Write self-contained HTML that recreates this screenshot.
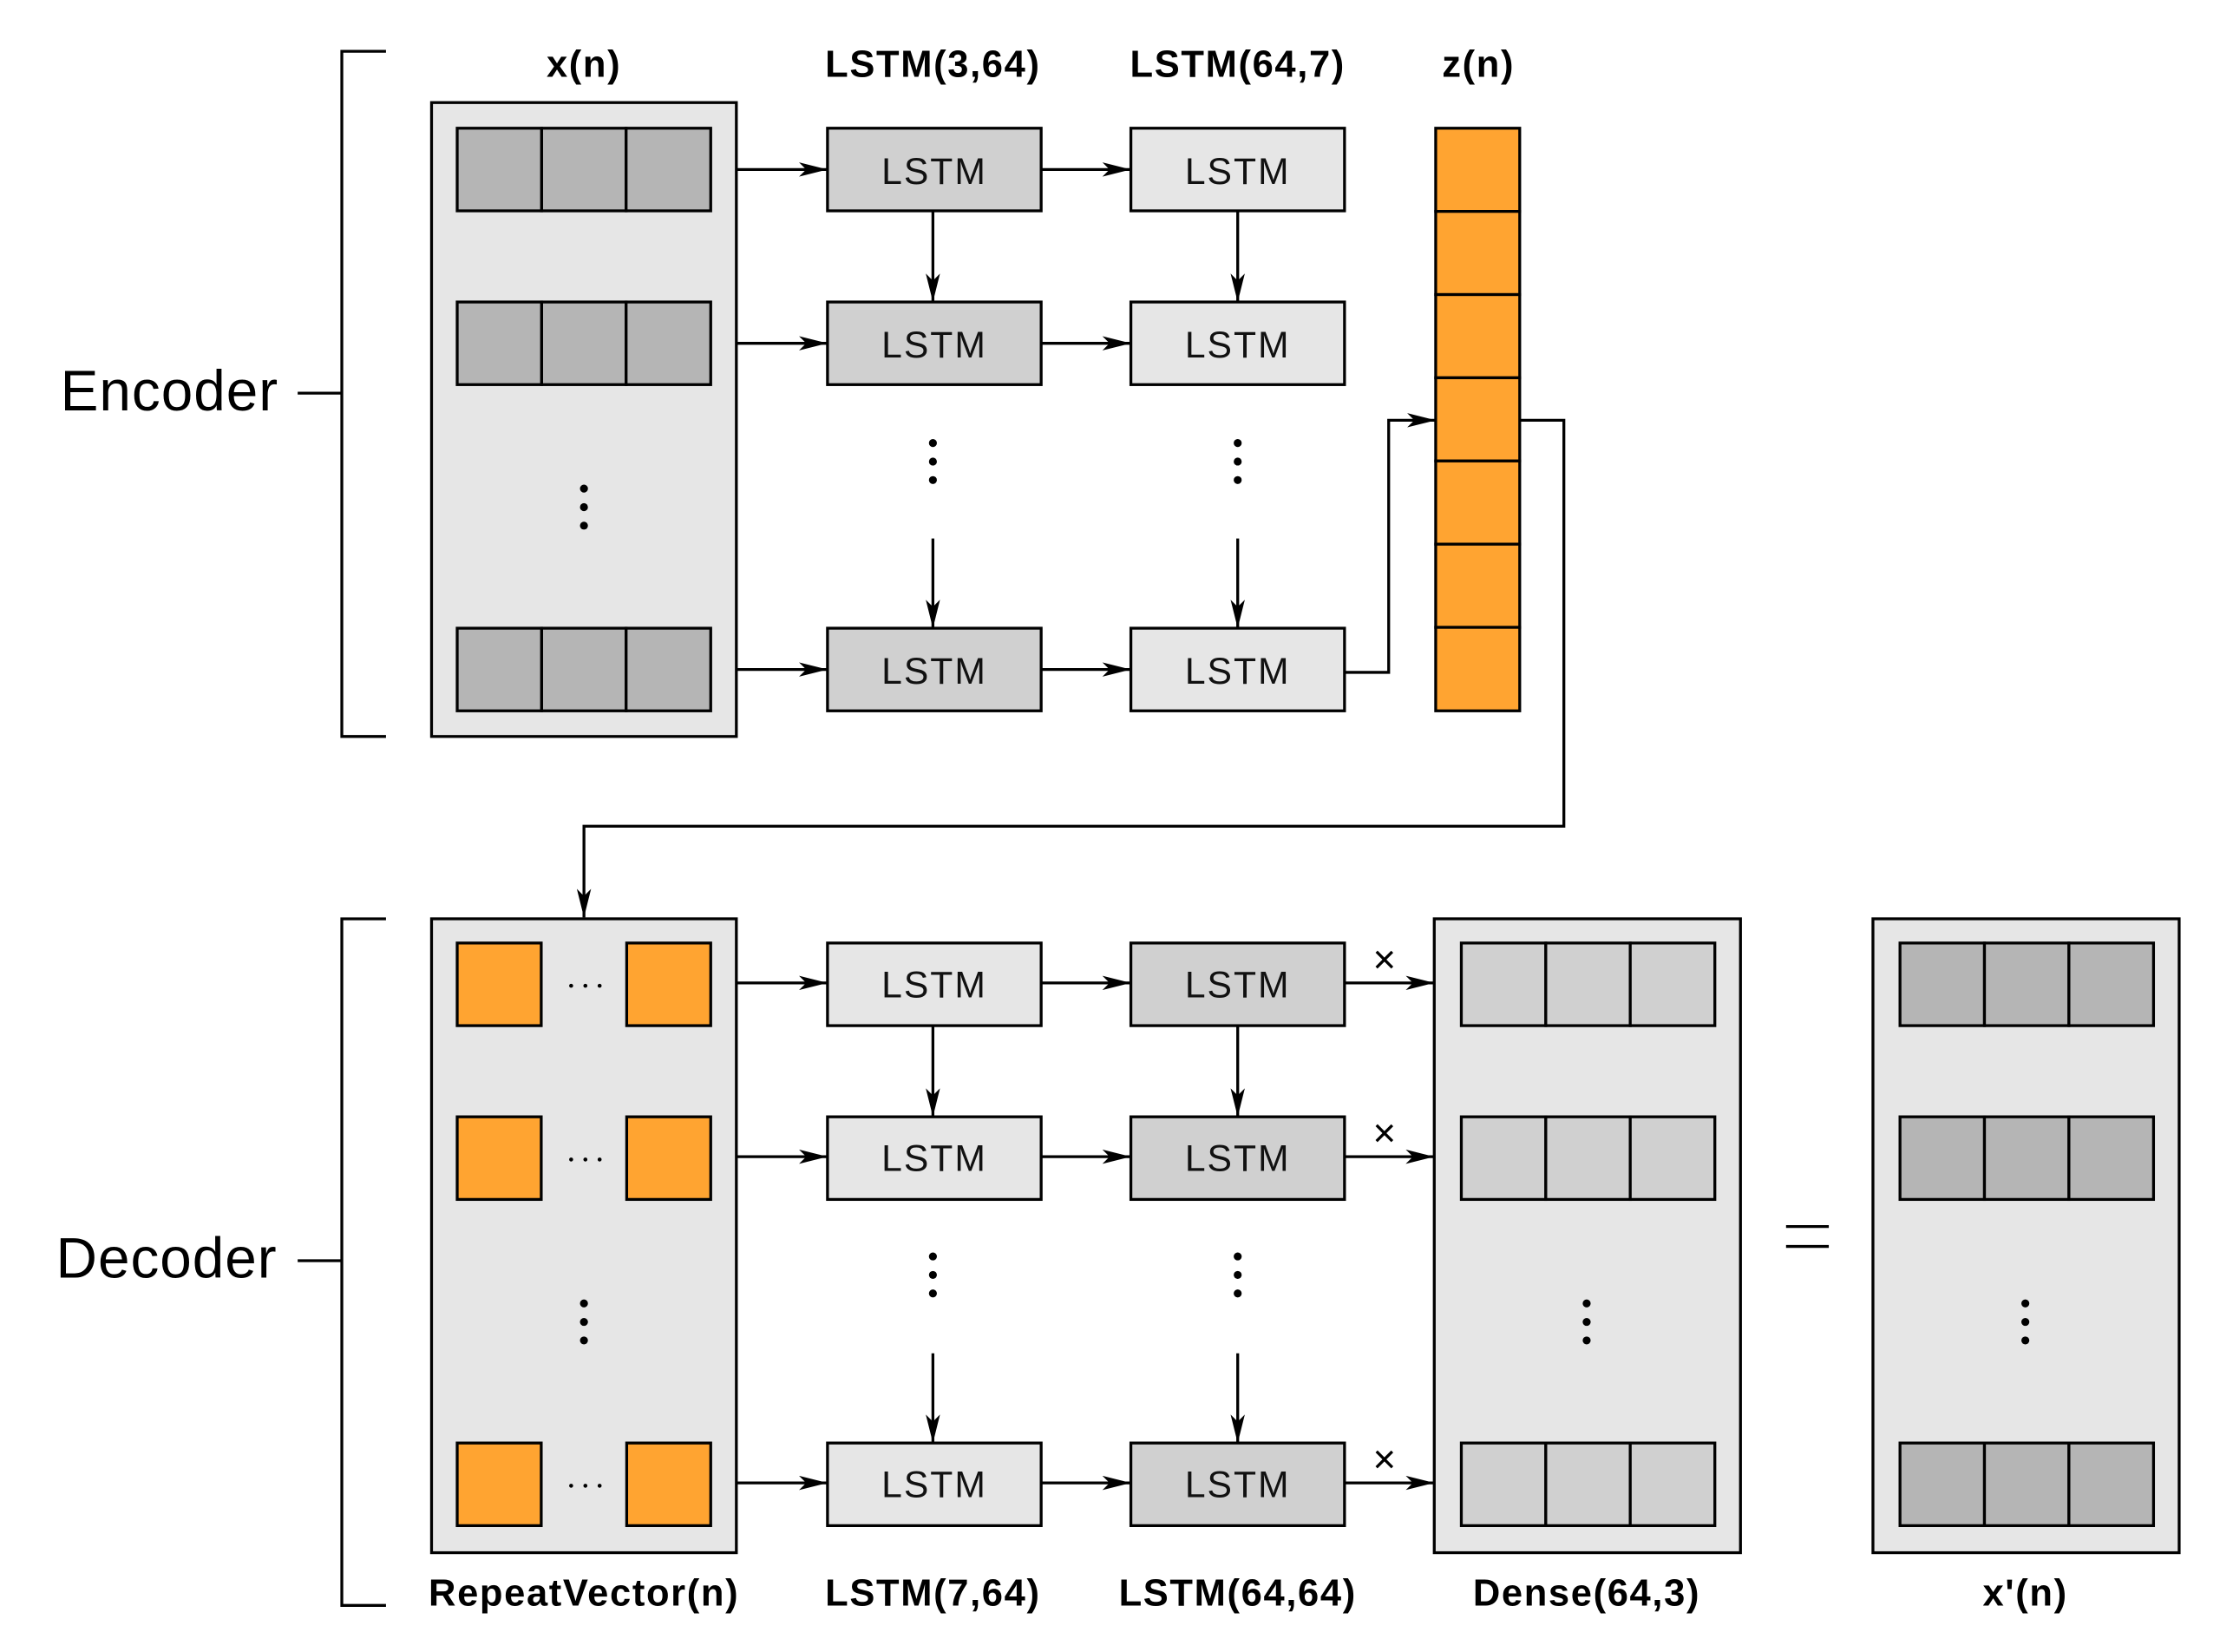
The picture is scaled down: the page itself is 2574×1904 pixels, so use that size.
<!DOCTYPE html>
<html><head><meta charset="utf-8"><style>
html,body{margin:0;padding:0;background:#fff;}
svg{display:block;}
</style></head><body>
<svg width="2574" height="1904" viewBox="0 0 1567.8 1159.7" xmlns="http://www.w3.org/2000/svg" font-family="Liberation Sans, sans-serif">
<defs>
<marker id="ah" viewBox="0 0 20 10" refX="20" refY="5" markerWidth="20" markerHeight="10" markerUnits="userSpaceOnUse" orient="auto">
<path d="M0,0 L20,5 L0,10 L5,5 Z" fill="#000"/>
</marker>
</defs>
<g stroke="#000" stroke-width="2" fill="none">
<path d="M271,36 H240 V517 H271"/>
<path d="M209,276 H240"/>
<path d="M271,645 H240 V1127 H271"/>
<path d="M209,885 H240"/>
</g>
<text x="119" y="288" font-size="40" letter-spacing="0.6" text-anchor="middle">Encoder</text>
<text x="117" y="897" font-size="40" letter-spacing="0.6" text-anchor="middle">Decoder</text>

<g font-size="26.5" font-weight="bold" letter-spacing="1" text-anchor="middle">
<text x="410" y="54">x(n)</text>
<text x="655" y="54">LSTM(3,64)</text>
<text x="869" y="54">LSTM(64,7)</text>
<text x="1038" y="54">z(n)</text>
<text x="410" y="1127">RepeatVector(n)</text>
<text x="655" y="1127">LSTM(7,64)</text>
<text x="869" y="1127">LSTM(64,64)</text>
<text x="1114" y="1127">Dense(64,3)</text>
<text x="1422" y="1127">x'(n)</text>
</g>

<g stroke="#000" stroke-width="2">
<rect x="303" y="72" width="214" height="445" fill="#e6e6e6"/>
<g fill="#b5b5b5">
<rect x="321" y="90" width="59.3" height="58"/><rect x="380.3" y="90" width="59.3" height="58"/><rect x="439.6" y="90" width="59.4" height="58"/>
<rect x="321" y="212" width="59.3" height="58"/><rect x="380.3" y="212" width="59.3" height="58"/><rect x="439.6" y="212" width="59.4" height="58"/>
<rect x="321" y="441" width="59.3" height="58"/><rect x="380.3" y="441" width="59.3" height="58"/><rect x="439.6" y="441" width="59.4" height="58"/>
</g>
<g fill="#d0d0d0">
<rect x="581" y="90" width="150" height="58"/><rect x="581" y="212" width="150" height="58"/><rect x="581" y="441" width="150" height="58"/>
</g>
<g fill="#e6e6e6">
<rect x="794" y="90" width="150" height="58"/><rect x="794" y="212" width="150" height="58"/><rect x="794" y="441" width="150" height="58"/>
</g>
<g fill="#ffa431">
<rect x="1008" y="90" width="59" height="58.4"/><rect x="1008" y="148.4" width="59" height="58.4"/><rect x="1008" y="206.8" width="59" height="58.4"/><rect x="1008" y="265.2" width="59" height="58.4"/><rect x="1008" y="323.6" width="59" height="58.4"/><rect x="1008" y="382" width="59" height="58.4"/><rect x="1008" y="440.4" width="59" height="58.6"/>
</g>
<rect x="303" y="645" width="214" height="445" fill="#e6e6e6"/>
<g fill="#ffa431">
<rect x="321" y="662" width="59" height="58"/><rect x="440" y="662" width="59" height="58"/>
<rect x="321" y="784" width="59" height="58"/><rect x="440" y="784" width="59" height="58"/>
<rect x="321" y="1013" width="59" height="58"/><rect x="440" y="1013" width="59" height="58"/>
</g>
<g fill="#e6e6e6">
<rect x="581" y="662" width="150" height="58"/><rect x="581" y="784" width="150" height="58"/><rect x="581" y="1013" width="150" height="58"/>
</g>
<g fill="#d0d0d0">
<rect x="794" y="662" width="150" height="58"/><rect x="794" y="784" width="150" height="58"/><rect x="794" y="1013" width="150" height="58"/>
</g>
<rect x="1007" y="645" width="215" height="445" fill="#e6e6e6"/>
<g fill="#d0d0d0">
<rect x="1026" y="662" width="59.3" height="58"/><rect x="1085.3" y="662" width="59.3" height="58"/><rect x="1144.6" y="662" width="59.4" height="58"/>
<rect x="1026" y="784" width="59.3" height="58"/><rect x="1085.3" y="784" width="59.3" height="58"/><rect x="1144.6" y="784" width="59.4" height="58"/>
<rect x="1026" y="1013" width="59.3" height="58"/><rect x="1085.3" y="1013" width="59.3" height="58"/><rect x="1144.6" y="1013" width="59.4" height="58"/>
</g>
<rect x="1315" y="645" width="215" height="445" fill="#e6e6e6"/>
<g fill="#b5b5b5">
<rect x="1334" y="662" width="59.3" height="58"/><rect x="1393.3" y="662" width="59.3" height="58"/><rect x="1452.6" y="662" width="59.4" height="58"/>
<rect x="1334" y="784" width="59.3" height="58"/><rect x="1393.3" y="784" width="59.3" height="58"/><rect x="1452.6" y="784" width="59.4" height="58"/>
<rect x="1334" y="1013" width="59.3" height="58"/><rect x="1393.3" y="1013" width="59.3" height="58"/><rect x="1452.6" y="1013" width="59.4" height="58"/>
</g>
</g>

<g font-size="26" letter-spacing="1.2" text-anchor="middle" fill="#111">
<text x="656" y="129">LSTM</text><text x="656" y="251">LSTM</text><text x="656" y="480">LSTM</text>
<text x="869" y="129">LSTM</text><text x="869" y="251">LSTM</text><text x="869" y="480">LSTM</text>
<text x="656" y="700">LSTM</text><text x="656" y="822">LSTM</text><text x="656" y="1051">LSTM</text>
<text x="869" y="700">LSTM</text><text x="869" y="822">LSTM</text><text x="869" y="1051">LSTM</text>
</g>

<g stroke="#000" stroke-width="2" fill="none" marker-end="url(#ah)">
<path d="M517,119 H581"/><path d="M731,119 H794"/>
<path d="M517,241 H581"/><path d="M731,241 H794"/>
<path d="M517,470 H581"/><path d="M731,470 H794"/>
<path d="M655,148 V212"/><path d="M869,148 V212"/>
<path d="M655,378 V441"/><path d="M869,378 V441"/>
<path d="M944,472 H975 V295 H1008"/>
<path d="M1067,295 H1098 V580 H410 V644"/>
<path d="M517,690 H581"/><path d="M731,690 H794"/><path d="M944,690 H1007"/>
<path d="M517,812 H581"/><path d="M731,812 H794"/><path d="M944,812 H1007"/>
<path d="M517,1041 H581"/><path d="M731,1041 H794"/><path d="M944,1041 H1007"/>
<path d="M655,720 V784"/><path d="M869,720 V784"/>
<path d="M655,950 V1013"/><path d="M869,950 V1013"/>
</g>

<g fill="#000">
<circle cx="410" cy="343" r="2.8"/><circle cx="410" cy="356" r="2.8"/><circle cx="410" cy="369" r="2.8"/>
<circle cx="655" cy="311" r="2.8"/><circle cx="655" cy="324" r="2.8"/><circle cx="655" cy="337" r="2.8"/>
<circle cx="869" cy="311" r="2.8"/><circle cx="869" cy="324" r="2.8"/><circle cx="869" cy="337" r="2.8"/>
<circle cx="410" cy="915" r="2.8"/><circle cx="410" cy="928" r="2.8"/><circle cx="410" cy="941" r="2.8"/>
<circle cx="655" cy="882" r="2.8"/><circle cx="655" cy="895" r="2.8"/><circle cx="655" cy="908" r="2.8"/>
<circle cx="869" cy="882" r="2.8"/><circle cx="869" cy="895" r="2.8"/><circle cx="869" cy="908" r="2.8"/>
<circle cx="1114" cy="915" r="2.8"/><circle cx="1114" cy="928" r="2.8"/><circle cx="1114" cy="941" r="2.8"/>
<circle cx="1422" cy="915" r="2.8"/><circle cx="1422" cy="928" r="2.8"/><circle cx="1422" cy="941" r="2.8"/>
<circle cx="401" cy="692" r="1.4"/><circle cx="411" cy="692" r="1.4"/><circle cx="421" cy="692" r="1.4"/>
<circle cx="401" cy="814" r="1.4"/><circle cx="411" cy="814" r="1.4"/><circle cx="421" cy="814" r="1.4"/>
<circle cx="401" cy="1043" r="1.4"/><circle cx="411" cy="1043" r="1.4"/><circle cx="421" cy="1043" r="1.4"/>
</g>
<g font-size="28" text-anchor="middle">
<text x="972" y="683">×</text><text x="972" y="805">×</text><text x="972" y="1034">×</text>
</g>
<g stroke="#000" stroke-width="2">
<path d="M1254,861 H1284"/><path d="M1254,875 H1284"/>
</g>
</svg>
</body></html>
